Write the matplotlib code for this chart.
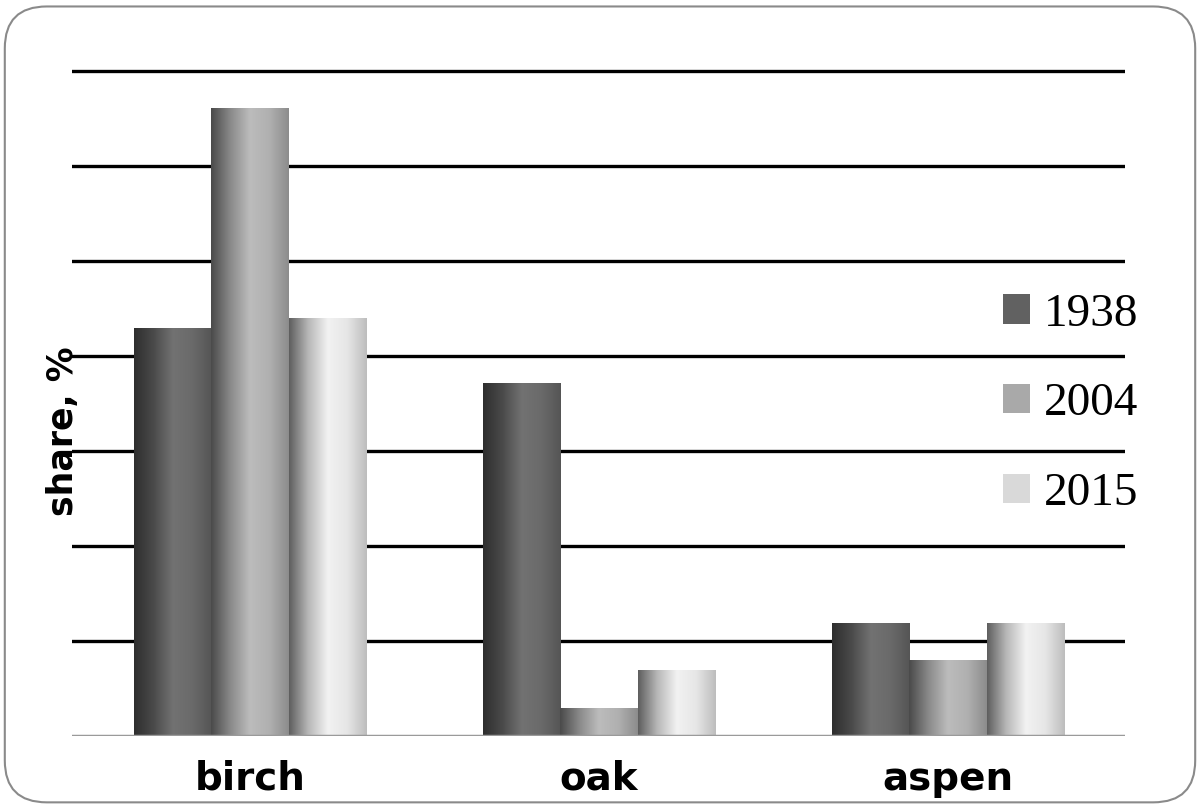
import numpy as np
import matplotlib
matplotlib.use("Agg")
import matplotlib.pyplot as plt
from matplotlib.colors import LinearSegmentedColormap
from matplotlib.patches import FancyBboxPatch, Patch

# данные (шаг сетки = 10)
categories = ["birch", "oak", "aspen"]
years = ["1938", "2004", "2015"]
share_1938 = [42.9, 37.2, 11.9]
share_2004 = [66.1, 2.9, 8.0]
share_2015 = [44.0, 6.9, 11.9]
series = [share_1938, share_2004, share_2015]

# градиенты "цилиндр": тёмный край, светлая середина, чуть темнее справа
bar_shades = [
    ["#2e2e2e", "#4a4a4a", "#727272", "#6a6a6a", "#555555"],
    ["#4a4a4a", "#8a8a8a", "#bcbcbc", "#b0b0b0", "#8c8c8c"],
    ["#5e5e5e", "#b8b8b8", "#f2f2f2", "#e6e6e6", "#bdbdbd"],
]
legend_colors = ["#616161", "#a9a9a9", "#d9d9d9"]

fig = plt.figure(figsize=(12, 8.08), dpi=100)
ax = fig.add_axes([0.06, 0.0891, 0.8775, 0.8465])

# рамка со скруглёнными углами
frame = FancyBboxPatch((0.004, 0.007), 0.992, 0.985,
                       boxstyle="round,pad=0,rounding_size=0.035",
                       transform=fig.transFigure, fill=False,
                       edgecolor="#8a8a8a", linewidth=1.5, mutation_aspect=1.48)
fig.patches.append(frame)

x = np.arange(len(categories))
width = 0.222

# сетка
for g in range(10, 80, 10):
    ax.axhline(g, color="black", linewidth=2.4, zorder=1)
ax.axhline(0, color="#9a9a9a", linewidth=2.5, zorder=4)

for i, vals in enumerate(series):
    cmap = LinearSegmentedColormap.from_list(f"c{i}", bar_shades[i])
    grad = np.linspace(0, 1, 256).reshape(1, -1)
    bars = ax.bar(x + (i - 1) * width, vals, width, color="none",
                  edgecolor="none", zorder=2)
    for b in bars:
        x0, y0 = b.get_x(), b.get_y()
        x1, y1 = x0 + b.get_width(), y0 + b.get_height()
        im = ax.imshow(grad, cmap=cmap, aspect="auto",
                       extent=(x0, x1, y0, y1), zorder=3,
                       interpolation="bilinear")
        im.set_clip_path(b)
ax.set_xlim(-0.51, 2.507)
ax.set_ylim(0, 72)

for s in ax.spines.values():
    s.set_visible(False)
ax.set_yticks([])
ax.set_xticks(x)
ax.set_xticklabels(categories, fontsize=28, fontweight="bold",
                   family="DejaVu Sans")
ax.tick_params(axis="x", length=0, pad=17)

ax.set_ylabel("share, %", fontsize=25, fontweight="bold")
ax.yaxis.set_label_coords(0.008, 0.445)

handles = [Patch(facecolor=c, edgecolor="none") for c in legend_colors]
fig.legend(handles, years, loc="center left", bbox_to_anchor=(0.8, 0.5),
           frameon=False, prop={"family": "Liberation Serif", "size": 34},
           handlelength=0.58, handleheight=0.58, handletextpad=0.3,
           labelspacing=1.0)

fig.savefig("out.png", dpi=100)
